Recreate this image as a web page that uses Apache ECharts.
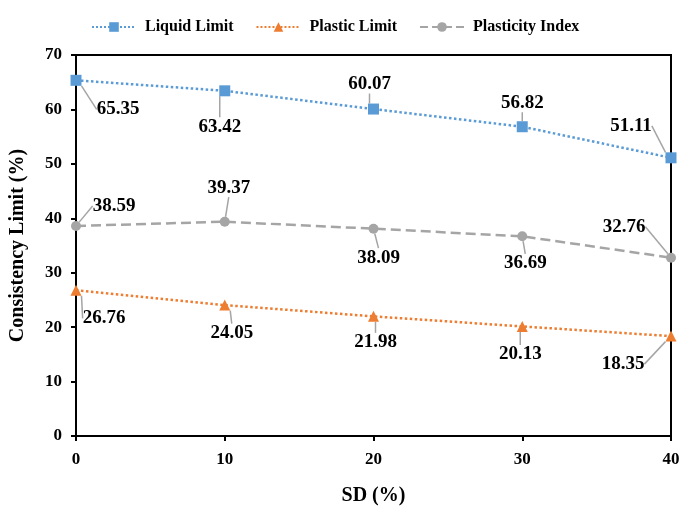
<!DOCTYPE html>
<html><head><meta charset="utf-8">
<script src="https://cdn.jsdelivr.net/npm/echarts@6/dist/echarts.min.js"></script>
<style>html,body{margin:0;padding:0;background:#fff}#c{width:695px;height:511px}</style>
</head><body><div id="c"></div>
<script>
const sd = [0, 10, 20, 30, 40];
const liquidLimit = [65.35, 63.42, 60.07, 56.82, 51.11];
const plasticLimit = [26.76, 24.05, 21.98, 20.13, 18.35];
const plasticityIndex = [38.59, 39.37, 38.09, 36.69, 32.76];
const yTicks = [0, 10, 20, 30, 40, 50, 60, 70];

const FONT = 'Liberation Serif';
// label offsets (dx, dy) relative to marker centre, per series
const offsets = [
  [[42, 29], [-5, 36], [-4, -25], [0, -24], [-40, -32]],
  [[28, 28], [7, 28], [2, 26], [-2, 28], [-48, 28]],
  [[38, -20], [4, -34], [5, 29], [3, 27], [-47, -31]]
];

const chart = echarts.init(document.getElementById('c'));
function mk(name, vals, color, symbol, size, ltype) {
  return {
    name, type: 'line',
    data: sd.map((x, i) => [x, vals[i]]),
    symbol, symbolSize: size,
    itemStyle: {color},
    lineStyle: {color, width: 2.5, type: ltype},
    label: {show: true, position: 'inside', formatter: p => p.value[1].toFixed(2),
      color: '#000', fontFamily: FONT, fontWeight: 'bold', fontSize: 19},
    labelLine: {show: true, lineStyle: {color: '#A5A5A5', width: 1.5}},
    z: 3
  };
}
const series = [
  mk('Liquid Limit', liquidLimit, '#5B9BD5', 'rect', 11, 'dotted'),
  mk('Plastic Limit', plasticLimit, '#ED7D31', 'triangle', 11, 'dotted'),
  mk('Plasticity Index', plasticityIndex, '#A5A5A5', 'circle', 10, 'dashed')
];
series.forEach((s, si) => {
  s.labelLayout = function (p) {
    const o = offsets[si][p.dataIndex];
    return {dx: o[0], dy: o[1]};
  };
});

chart.setOption({
  animation: false,
  legend: {
    top: 14, left: 86, itemWidth: 44, itemHeight: 12, itemGap: 22,
    textStyle: {fontFamily: FONT, fontWeight: 'bold', fontSize: 16, color: '#000', padding: [0, 0, 0, 4]},
    data: ['Liquid Limit', 'Plastic Limit', 'Plasticity Index']
  },
  grid: {left: 74, right: 24, top: 55, bottom: 75, show: true, borderColor: '#000', borderWidth: 2},
  xAxis: {
    type: 'value', min: 0, max: 40, interval: 10,
    name: 'SD (%)', nameLocation: 'middle', nameGap: 50,
    nameTextStyle: {fontFamily: FONT, fontWeight: 'bold', fontSize: 20, color: '#000'},
    axisLine: {show: true, lineStyle: {color: '#000', width: 2}},
    axisTick: {show: true, length: 5, lineStyle: {color: '#000', width: 2}},
    axisLabel: {fontFamily: FONT, fontWeight: 'bold', fontSize: 17, color: '#000', margin: 15},
    splitLine: {show: false}
  },
  yAxis: {
    type: 'value', min: 0, max: 70, interval: 10,
    name: 'Consistency Limit (%)', nameLocation: 'middle', nameGap: 48,
    nameTextStyle: {fontFamily: FONT, fontWeight: 'bold', fontSize: 20, color: '#000'},
    axisLine: {show: true, lineStyle: {color: '#000', width: 2}},
    axisTick: {show: true, length: 5, lineStyle: {color: '#000', width: 2}},
    axisLabel: {fontFamily: FONT, fontWeight: 'bold', fontSize: 17, color: '#000', margin: 14,
      formatter: v => yTicks.includes(v) ? String(v) : ''},
    splitLine: {show: false}
  },
  series
});
</script></body></html>
